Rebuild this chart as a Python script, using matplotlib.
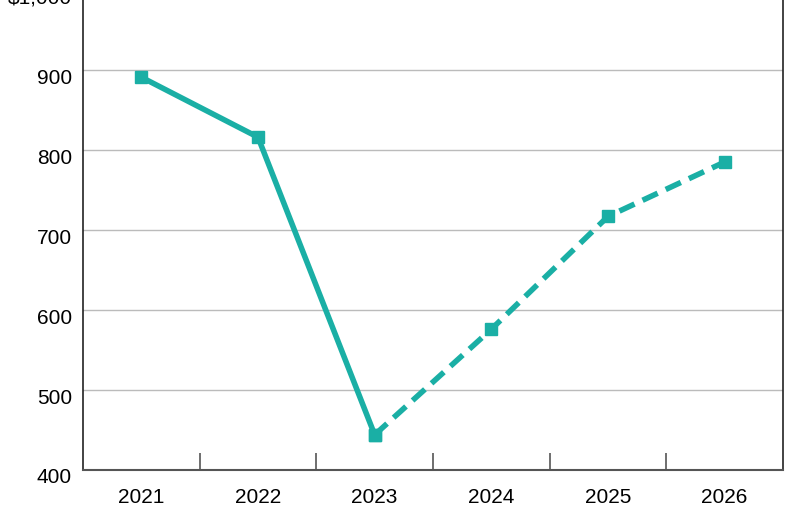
import matplotlib
matplotlib.use("Agg")
import matplotlib.pyplot as plt
import matplotlib.transforms as mtransforms
import numpy as np

years = ["2021", "2022", "2023", "2024", "2025", "2026"]
actual = [891, 816, 444]
forecast = [444, 576, 717, 785]
y_ticks = [400, 500, 600, 700, 800, 900, 1000]
y_labels = ["400", "500", "600", "700", "800", "900", "$1,000"]

plt.rcParams['font.family'] = ['Liberation Sans', 'DejaVu Sans']
color = "#1AAFA5"

fig = plt.figure(figsize=(8, 5.06), dpi=100)
ax = fig.add_axes([83/800, 35/506, 700/800, 480/506])

x = np.arange(len(years))
ax.plot(x[:3], actual, color=color, lw=4, marker="s", ms=9, solid_capstyle="butt", zorder=3)
ax.plot(x[2:], forecast, color=color, lw=4, ls=(0, (3, 1.6)), marker="s", ms=9, zorder=3)

ax.set_xlim(-0.5, len(years) - 0.5)
ax.set_ylim(400, 1000)
ax.set_yticks(y_ticks)
ax.set_yticklabels(y_labels)
ax.set_xticks(x)
ax.set_xticklabels(years)
ax.set_xticks(np.arange(0.5, len(years) - 1, 1), minor=True)
ax.tick_params(axis="x", which="major", length=0, labelsize=15, pad=12)
ax.tick_params(axis="x", which="minor", direction="in", length=12, width=1.2, color="#555555")
ax.tick_params(axis="y", length=0, labelsize=15, pad=8)
offset = mtransforms.ScaledTranslation(0, -5/100, fig.dpi_scale_trans)
for lab in ax.get_yticklabels():
    lab.set_transform(lab.get_transform() + offset)
ax.grid(axis="y", color="#bbbbbb", lw=1)
ax.set_axisbelow(True)
for s in ["left", "right", "top"]:
    ax.spines[s].set_color("#222222")
    ax.spines[s].set_linewidth(1.2)
ax.spines["bottom"].set_color("#555555")
ax.spines["bottom"].set_linewidth(1.5)

fig.savefig("out.png", dpi=100)
